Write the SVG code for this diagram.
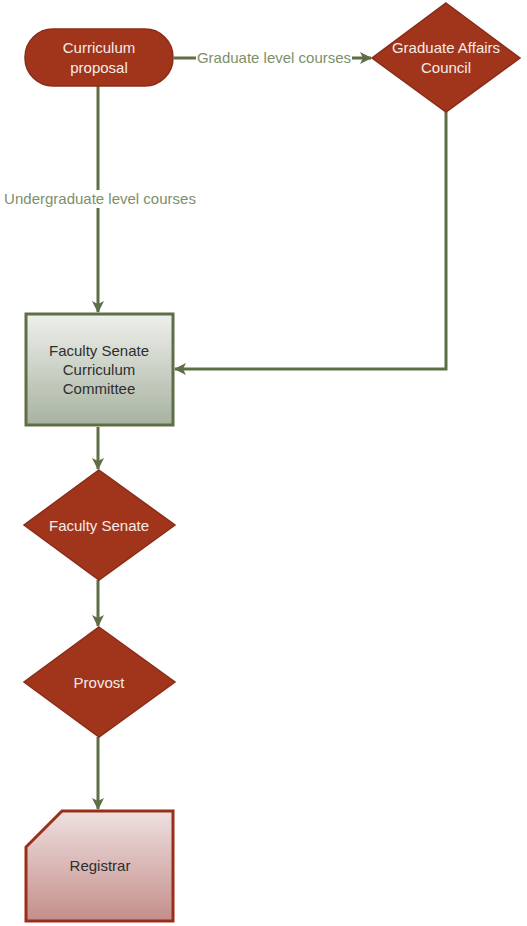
<svg xmlns="http://www.w3.org/2000/svg" width="527" height="926" viewBox="0 0 527 926">
  <defs>
    <linearGradient id="gradCommittee" x1="0" y1="0" x2="0" y2="1">
      <stop offset="0" stop-color="#eef0ec"/>
      <stop offset="1" stop-color="#a8b2a0"/>
    </linearGradient>
    <linearGradient id="gradRegistrar" x1="0" y1="0" x2="0" y2="1">
      <stop offset="0" stop-color="#eee0e0"/>
      <stop offset="1" stop-color="#c48e8b"/>
    </linearGradient>
    <marker id="arrow" viewBox="0 0 12 12" refX="11" refY="6" markerWidth="12" markerHeight="12" markerUnits="userSpaceOnUse" orient="auto">
      <path d="M0,0 L12,6 L0,12 L3,6 Z" fill="#5e6f47"/>
    </marker>
  </defs>
  <style>
    .conn { fill: none; stroke: #5e6f47; stroke-width: 3; }
    .red { fill: #a0351c; stroke: #8a2c16; stroke-width: 1.5; }
    .white { fill: #f4ece8; font-family: "Liberation Sans", Arial, sans-serif; font-size: 15px; text-anchor: middle; }
    .dark { fill: #2e2e2e; font-family: "Liberation Sans", Arial, sans-serif; font-size: 15px; text-anchor: middle; }
    .lbl { fill: #7d8f6a; font-family: "Liberation Sans", Arial, sans-serif; font-size: 15px; text-anchor: middle; }
  </style>
  <rect width="527" height="926" fill="#ffffff"/>

  <g id="connectors">
    <line class="conn" x1="174" y1="58" x2="371" y2="58" marker-end="url(#arrow)"/>
    <line class="conn" x1="98" y1="86" x2="98" y2="312" marker-end="url(#arrow)"/>
    <polyline class="conn" points="446,112 446,369 175,369" marker-end="url(#arrow)"/>
    <line class="conn" x1="98" y1="427" x2="98" y2="469" marker-end="url(#arrow)"/>
    <line class="conn" x1="98" y1="580" x2="98" y2="626" marker-end="url(#arrow)"/>
    <line class="conn" x1="98" y1="737" x2="98" y2="809" marker-end="url(#arrow)"/>
    <rect x="196" y="49" width="156" height="18" fill="#ffffff"/>
    <text class="lbl" x="274" y="63">Graduate level courses</text>
    <rect x="2" y="190" width="196" height="18" fill="#ffffff"/>
    <text class="lbl" x="100" y="204">Undergraduate level courses</text>
  </g>

  <g id="curriculum-proposal">
    <rect class="red" x="25" y="29" width="148" height="57" rx="28" ry="28"/>
    <text class="white" x="99" y="53">Curriculum</text>
    <text class="white" x="99" y="73">proposal</text>
  </g>

  <g id="graduate-affairs-council">
    <polygon class="red" points="446,3 520,58 446,112 372,58"/>
    <text class="white" x="446" y="53">Graduate Affairs</text>
    <text class="white" x="446" y="73">Council</text>
  </g>

  <g id="curriculum-committee">
    <rect x="26" y="314" width="147" height="111" fill="url(#gradCommittee)" stroke="#5e6f47" stroke-width="3"/>
    <text class="dark" x="99" y="356">Faculty Senate</text>
    <text class="dark" x="99" y="375">Curriculum</text>
    <text class="dark" x="99" y="394">Committee</text>
  </g>

  <g id="faculty-senate">
    <polygon class="red" points="99,470 175,525 99,580 24,525"/>
    <text class="white" x="99" y="531">Faculty Senate</text>
  </g>

  <g id="provost">
    <polygon class="red" points="99,627 175,682 99,737 24,682"/>
    <text class="white" x="99" y="688">Provost</text>
  </g>

  <g id="registrar">
    <polygon points="62,811 173,811 173,921 26,921 26,847" fill="url(#gradRegistrar)" stroke="#9a2e18" stroke-width="3"/>
    <text class="dark" x="100" y="871">Registrar</text>
  </g>
</svg>
